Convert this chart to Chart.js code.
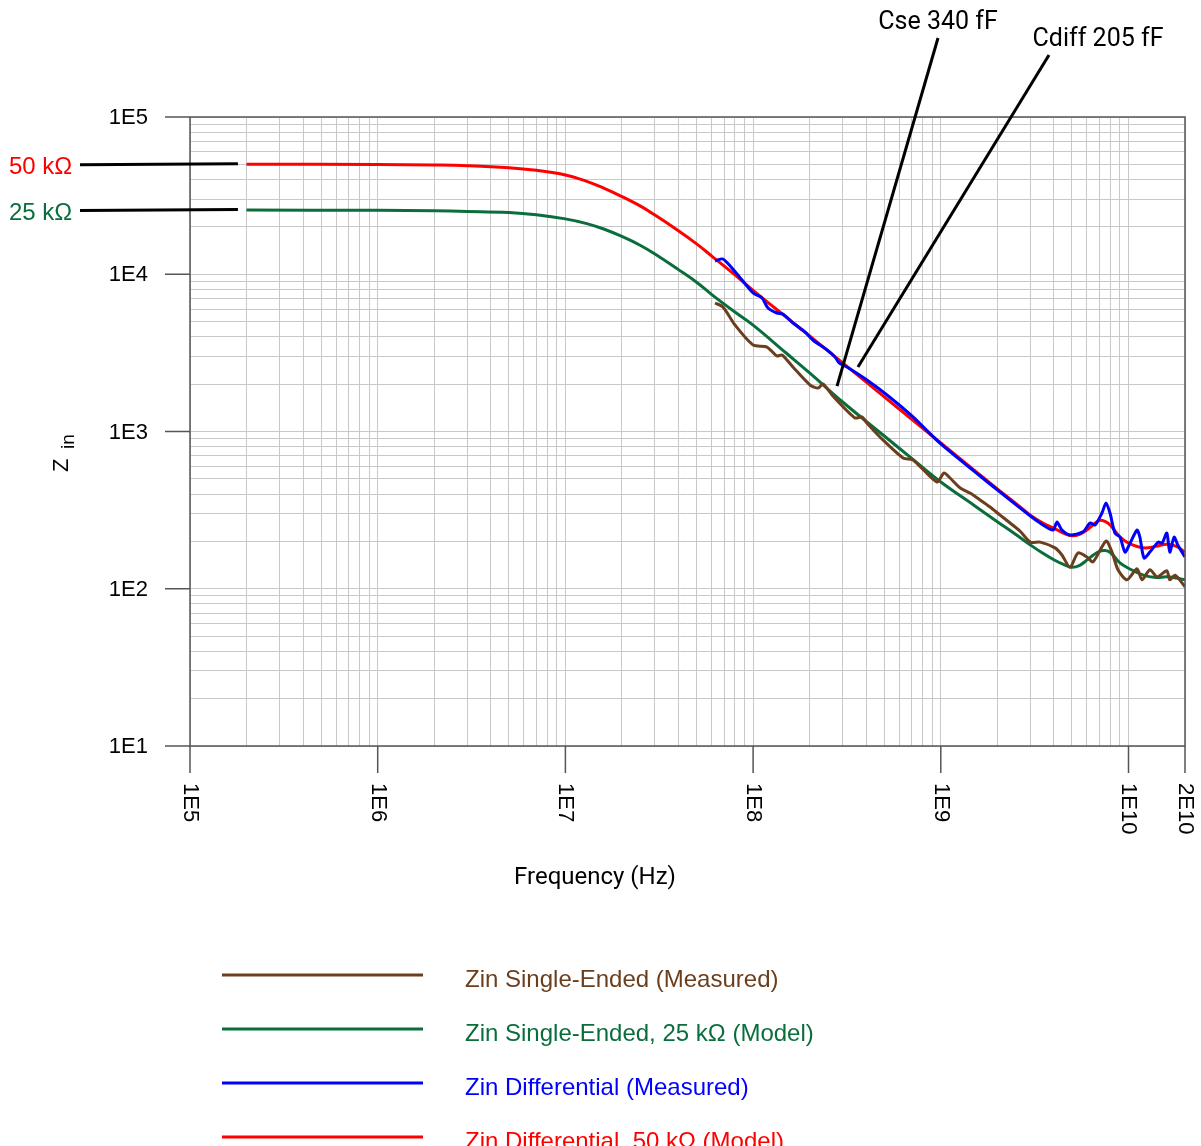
<!DOCTYPE html>
<html>
<head>
<meta charset="utf-8">
<script src="https://cdn.jsdelivr.net/npm/chart.js@4.4.0/dist/chart.umd.min.js"></script>
<style>
body { margin: 0; background: #fff; }
canvas { display: block; }
</style>
</head>
<body>
<canvas id="myChart" width="1201" height="1146"></canvas>
<script>
// frequency (Hz) / impedance (ohm)
const modelFreq = [2e5, 1e6, 2e6, 3e6, 5e6, 7e6, 1e7, 1.3e7, 1.6e7, 2e7, 2.5e7, 3e7, 4e7, 5e7, 6e7, 8e7, 1e8, 1.5e8, 2e8, 3e8, 5e8, 7e8, 1e9, 1.5e9, 2e9, 2.5e9, 3e9, 3.5e9, 4e9, 4.5e9, 5e9, 5.5e9, 6e9, 6.5e9, 7e9, 7.5e9, 8e9, 9e9, 1e10, 1.2e10, 1.4e10, 1.6e10, 1.8e10, 2e10];
const diffModel = [50000, 49900, 49500, 49000, 47600, 45800, 42800, 39000, 35300, 31200, 27200, 23800, 18900, 15600, 13100, 9900, 7900, 5340, 4050, 2730, 1660, 1196, 845, 570, 431, 350, 294, 262, 243, 226, 217, 222, 236, 256, 272, 268, 254, 214, 195, 182, 186, 192, 186, 171];
const seModel = [25600, 25500, 25300, 25100, 24700, 23900, 22500, 21000, 19400, 17400, 15300, 13450, 10700, 8900, 7450, 5750, 4750, 3156, 2360, 1540, 936, 674, 477, 340, 267, 222, 190, 168, 153, 143, 137, 141, 152, 164, 173, 175, 170, 146, 135, 122, 118, 119, 117, 114];

const diffMeasFreq = [6.27e7, 6.91e7, 8.21e7, 1e8, 1.116e8, 1.2e8, 1.34e8, 1.44e8, 1.63e8, 1.89e8, 2.08e8, 2.48e8, 2.73e8, 2.87e8, 3.16e8, 4.04e8, 5.17e8, 7.11e8, 1e9, 2e9, 3e9, 3.38e9, 3.96e9, 4.16e9, 4.42e9, 4.88e9, 5.72e9, 6.24e9, 6.63e9, 7.22e9, 7.59e9, 7.97e9, 8.47e9, 9.01e9, 9.58e9, 1.02e10, 1.11e10, 1.15e10, 1.21e10, 1.3e10, 1.44e10, 1.51e10, 1.6e10, 1.66e10, 1.75e10, 1.83e10, 2e10];
const diffMeas = [12140, 12500, 10040, 7600, 7060, 6100, 5670, 5590, 4900, 4295, 3820, 3300, 2980, 2730, 2570, 2125, 1706, 1237, 833, 425, 290, 262, 236, 266, 236, 220, 230, 262, 254, 303, 351, 303, 226, 213, 171, 195, 236, 213, 157, 171, 198, 195, 226, 171, 213, 190, 159];

const seMeasFreq = [6.27e7, 6.91e7, 8.01e7, 1e8, 1.186e8, 1.34e8, 1.426e8, 1.63e8, 2.01e8, 2.22e8, 2.36e8, 2.66e8, 3.49e8, 3.8e8, 4.04e8, 4.74e8, 6.29e8, 7.11e8, 9.54e8, 1.04e9, 1.12e9, 1.27e9, 1.43e9, 1.62e9, 1.83e9, 2.07e9, 2.34e9, 2.64e9, 3e9, 3.38e9, 4.06e9, 4.42e9, 4.88e9, 5.38e9, 6.01e9, 6.47e9, 7.59e9, 8.17e9, 8.79e9, 9.82e9, 1.11e10, 1.18e10, 1.3e10, 1.42e10, 1.6e10, 1.66e10, 1.77e10, 2e10];
const seMeas = [6565, 6190, 4755, 3548, 3445, 3020, 3066, 2570, 1976, 1891, 2004, 1682, 1219, 1237, 1132, 923, 679, 659, 477, 545, 506, 437, 406, 367, 331, 294, 262, 233, 198, 198, 182, 164, 137, 169, 159, 148, 201, 171, 132, 114, 134, 114, 132, 119, 130, 114, 122, 103];

const seriesNames = ['Zin Single-Ended (Measured)', 'Zin Single-Ended, 25 kΩ (Model)', 'Zin Differential (Measured)', 'Zin Differential, 50 kΩ (Model)'];
const seriesColors = ['#6b3f1d', '#0a6e3c', '#0000ff', '#ff0000'];

const yTickValues = [10, 100, 1000, 10000, 100000];
const yTickLabels = ['1E1', '1E2', '1E3', '1E4', '1E5'];
const xTickValues = [1e5, 1e6, 1e7, 1e8, 1e9, 1e10, 2e10];
const xTickLabels = ['1E5', '1E6', '1E7', '1E8', '1E9', '1E10', '2E10'];

function pts(xs, ys) {
    return xs.map((x, i) => ({ x: x, y: ys[i] }));
}

// 1..9 per decade grid lines
const xGrid = [];
for (let e = 5; e <= 10; e++) {
    for (let m = 1; m <= 9; m++) {
        let v = m * Math.pow(10, e);
        if (v <= 2e10) xGrid.push(v);
    }
}
const yGrid = [];
for (let e = 1; e <= 4; e++) {
    for (let m = 1; m <= 9; m++) yGrid.push(m * Math.pow(10, e));
}
yGrid.push(1e5);

const decor = {
    id: 'decor',
    afterDraw(chart) {
        const ctx = chart.ctx;
        const xs = chart.scales.x, ys = chart.scales.y;
        const a = chart.chartArea;
        const seg = (x1, y1, x2, y2) => { ctx.beginPath(); ctx.moveTo(x1, y1); ctx.lineTo(x2, y2); ctx.stroke(); };
        ctx.save();

        // frame + major ticks
        ctx.strokeStyle = '#555';
        ctx.lineWidth = 1.5;
        ctx.strokeRect(a.left, a.top, a.right - a.left, a.bottom - a.top);
        yTickValues.forEach(v => { let py = ys.getPixelForValue(v); seg(a.left - 25, py, a.left, py); });
        xTickValues.forEach(v => { let px = xs.getPixelForValue(v); seg(px, a.bottom, px, a.bottom + 27); });

        // tick labels
        ctx.fillStyle = '#000';
        ctx.font = '22px "Liberation Sans", Arial, sans-serif';
        ctx.textAlign = 'right';
        ctx.textBaseline = 'middle';
        yTickValues.forEach((v, i) => ctx.fillText(yTickLabels[i], a.left - 42, ys.getPixelForValue(v) + 1));
        ctx.textAlign = 'left';
        xTickValues.forEach((v, i) => {
            ctx.save();
            ctx.translate(xs.getPixelForValue(v), a.bottom + 37);
            ctx.rotate(Math.PI / 2);
            ctx.fillText(xTickLabels[i], 0, 0);
            ctx.restore();
        });

        // axis titles
        ctx.textAlign = 'center';
        ctx.font = '24px Roboto, sans-serif';
        ctx.fillText('Frequency (Hz)', 595, a.bottom + 132);
        ctx.save();
        ctx.translate(62, 472);
        ctx.rotate(-Math.PI / 2);
        ctx.textAlign = 'left';
        ctx.font = '22px "Liberation Sans", Arial, sans-serif';
        ctx.fillText('Z', 0, 0);
        ctx.font = '19px "Liberation Sans", Arial, sans-serif';
        ctx.fillText('in', 23, 7);
        ctx.restore();

        // resistance callouts on the left
        ctx.lineWidth = 3;
        ctx.strokeStyle = '#000';
        ctx.font = '24px "Liberation Sans", Arial, sans-serif';
        ctx.textAlign = 'left';
        const xEnd = xs.getPixelForValue(1.8e5);
        [[diffModel[0], '50 kΩ', seriesColors[3]], [seModel[0], '25 kΩ', seriesColors[1]]].forEach(r => {
            let py = ys.getPixelForValue(r[0]);
            seg(80, py + 0.5, xEnd, py - 0.5);
            ctx.fillStyle = r[2];
            ctx.fillText(r[1], 9, py + 3);
        });

        // capacitance callouts
        ctx.fillStyle = '#000';
        ctx.textAlign = 'center';
        ctx.font = '25px Roboto, sans-serif';
        seg(938, 38, xs.getPixelForValue(2.8e8), ys.getPixelForValue(1945));
        seg(1049, 55, xs.getPixelForValue(3.62e8), ys.getPixelForValue(2570));
        ctx.fillText('Cse 340 fF', 938, 23);
        ctx.fillText('Cdiff 205 fF', 1098, 40);

        // legend
        const rowsY = [975, 1029, 1083, 1137];
        ctx.font = '24px "Liberation Sans", Arial, sans-serif';
        ctx.textAlign = 'left';
        seriesNames.forEach((name, i) => {
            ctx.strokeStyle = seriesColors[i];
            ctx.lineWidth = 3;
            seg(222, rowsY[i], 423, rowsY[i]);
            ctx.fillStyle = seriesColors[i];
            ctx.fillText(name, 465, rowsY[i] + 5);
        });
        ctx.restore();
    }
};

const ctx = document.getElementById('myChart');
new Chart(ctx, {
    type: 'line',
    data: {
        datasets: [
            { label: seriesNames[0], data: pts(seMeasFreq, seMeas), borderColor: seriesColors[0], borderWidth: 3, tension: 0.25, order: 2 },
            { label: seriesNames[1], data: pts(modelFreq, seModel), borderColor: seriesColors[1], borderWidth: 3, tension: 0.4, order: 3 },
            { label: seriesNames[2], data: pts(diffMeasFreq, diffMeas), borderColor: seriesColors[2], borderWidth: 3, tension: 0.25, order: 1 },
            { label: seriesNames[3], data: pts(modelFreq, diffModel), borderColor: seriesColors[3], borderWidth: 3, tension: 0.4, order: 4 }
        ]
    },
    options: {
        responsive: false,
        animation: false,
        layout: { padding: { top: 117, right: 16, left: 0, bottom: 0 } },
        elements: { point: { radius: 0 } },
        plugins: { legend: { display: false }, tooltip: { enabled: false } },
        scales: {
            x: {
                type: 'logarithmic', min: 1e5, max: 2e10,
                afterBuildTicks: s => { s.ticks = xGrid.map(v => ({ value: v })); },
                afterFit: s => { s.height = 400; },
                ticks: { display: false },
                grid: { color: '#c8c8c8', lineWidth: 1, drawTicks: false },
                border: { display: false }
            },
            y: {
                type: 'logarithmic', min: 10, max: 1e5,
                afterBuildTicks: s => { s.ticks = yGrid.map(v => ({ value: v })); },
                afterFit: s => { s.width = 190; },
                ticks: { display: false },
                grid: { color: '#c8c8c8', lineWidth: 1, drawTicks: false },
                border: { display: false }
            }
        }
    },
    plugins: [decor]
});
</script>
</body>
</html>
